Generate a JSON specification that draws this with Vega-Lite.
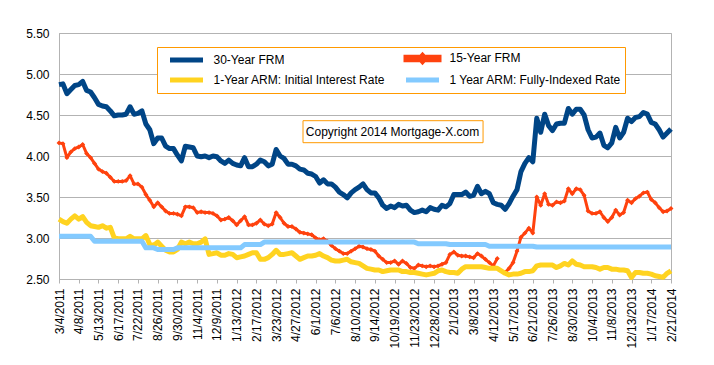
{
"$schema": "https://vega.github.io/schema/vega-lite/v6.json",
"width": 612, "height": 246,
"autosize": {"type": "none"},
"padding": {"left": 59, "top": 33, "right": 43, "bottom": 86},
"background": "white",
"config": {
  "font": "Liberation Sans",
  "view": {"stroke": "#b3b3b3", "strokeWidth": 1},
  "axis": {"labelFont": "Liberation Sans", "labelFontSize": 12, "labelColor": "#000000", "domainColor": "#b3b3b3", "tickColor": "#b3b3b3", "gridColor": "#b3b3b3", "title": null}
},
"datasets": {
"f30": [{"d":"2011-03-04","v":4.87},{"d":"2011-03-11","v":4.88},{"d":"2011-03-18","v":4.76},{"d":"2011-03-25","v":4.81},{"d":"2011-04-01","v":4.86},{"d":"2011-04-08","v":4.87},{"d":"2011-04-15","v":4.91},{"d":"2011-04-22","v":4.80},{"d":"2011-04-29","v":4.78},{"d":"2011-05-06","v":4.71},{"d":"2011-05-13","v":4.63},{"d":"2011-05-20","v":4.61},{"d":"2011-05-27","v":4.60},{"d":"2011-06-03","v":4.55},{"d":"2011-06-10","v":4.49},{"d":"2011-06-17","v":4.50},{"d":"2011-06-24","v":4.50},{"d":"2011-07-01","v":4.51},{"d":"2011-07-08","v":4.60},{"d":"2011-07-15","v":4.51},{"d":"2011-07-22","v":4.52},{"d":"2011-07-29","v":4.55},{"d":"2011-08-05","v":4.39},{"d":"2011-08-12","v":4.32},{"d":"2011-08-19","v":4.15},{"d":"2011-08-26","v":4.22},{"d":"2011-09-02","v":4.22},{"d":"2011-09-09","v":4.12},{"d":"2011-09-16","v":4.09},{"d":"2011-09-23","v":4.09},{"d":"2011-09-30","v":4.01},{"d":"2011-10-07","v":3.94},{"d":"2011-10-14","v":4.12},{"d":"2011-10-21","v":4.11},{"d":"2011-10-28","v":4.10},{"d":"2011-11-04","v":4.00},{"d":"2011-11-11","v":3.99},{"d":"2011-11-18","v":4.00},{"d":"2011-11-25","v":3.98},{"d":"2011-12-02","v":4.00},{"d":"2011-12-09","v":3.99},{"d":"2011-12-16","v":3.94},{"d":"2011-12-23","v":3.91},{"d":"2011-12-30","v":3.95},{"d":"2012-01-06","v":3.91},{"d":"2012-01-13","v":3.89},{"d":"2012-01-20","v":3.88},{"d":"2012-01-27","v":3.98},{"d":"2012-02-03","v":3.87},{"d":"2012-02-10","v":3.87},{"d":"2012-02-17","v":3.90},{"d":"2012-02-24","v":3.95},{"d":"2012-03-02","v":3.93},{"d":"2012-03-09","v":3.88},{"d":"2012-03-16","v":3.90},{"d":"2012-03-23","v":4.08},{"d":"2012-03-30","v":4.00},{"d":"2012-04-06","v":3.97},{"d":"2012-04-13","v":3.90},{"d":"2012-04-20","v":3.90},{"d":"2012-04-27","v":3.88},{"d":"2012-05-04","v":3.84},{"d":"2012-05-11","v":3.83},{"d":"2012-05-18","v":3.79},{"d":"2012-05-25","v":3.78},{"d":"2012-06-01","v":3.75},{"d":"2012-06-08","v":3.67},{"d":"2012-06-15","v":3.71},{"d":"2012-06-22","v":3.66},{"d":"2012-06-29","v":3.66},{"d":"2012-07-06","v":3.62},{"d":"2012-07-13","v":3.56},{"d":"2012-07-20","v":3.53},{"d":"2012-07-27","v":3.49},{"d":"2012-08-03","v":3.55},{"d":"2012-08-10","v":3.59},{"d":"2012-08-17","v":3.62},{"d":"2012-08-24","v":3.66},{"d":"2012-08-31","v":3.59},{"d":"2012-09-07","v":3.55},{"d":"2012-09-14","v":3.55},{"d":"2012-09-21","v":3.49},{"d":"2012-09-28","v":3.40},{"d":"2012-10-05","v":3.36},{"d":"2012-10-12","v":3.39},{"d":"2012-10-19","v":3.37},{"d":"2012-10-26","v":3.41},{"d":"2012-11-02","v":3.39},{"d":"2012-11-09","v":3.40},{"d":"2012-11-16","v":3.34},{"d":"2012-11-23","v":3.31},{"d":"2012-11-30","v":3.32},{"d":"2012-12-07","v":3.34},{"d":"2012-12-14","v":3.32},{"d":"2012-12-21","v":3.37},{"d":"2012-12-28","v":3.35},{"d":"2013-01-04","v":3.34},{"d":"2013-01-11","v":3.40},{"d":"2013-01-18","v":3.38},{"d":"2013-01-25","v":3.42},{"d":"2013-02-01","v":3.53},{"d":"2013-02-08","v":3.53},{"d":"2013-02-15","v":3.53},{"d":"2013-02-22","v":3.56},{"d":"2013-03-01","v":3.51},{"d":"2013-03-08","v":3.52},{"d":"2013-03-15","v":3.63},{"d":"2013-03-22","v":3.54},{"d":"2013-03-29","v":3.57},{"d":"2013-04-05","v":3.54},{"d":"2013-04-12","v":3.43},{"d":"2013-04-19","v":3.41},{"d":"2013-04-26","v":3.40},{"d":"2013-05-03","v":3.35},{"d":"2013-05-10","v":3.42},{"d":"2013-05-17","v":3.51},{"d":"2013-05-24","v":3.59},{"d":"2013-05-31","v":3.81},{"d":"2013-06-07","v":3.91},{"d":"2013-06-14","v":3.98},{"d":"2013-06-21","v":3.93},{"d":"2013-06-28","v":4.46},{"d":"2013-07-05","v":4.29},{"d":"2013-07-12","v":4.51},{"d":"2013-07-19","v":4.37},{"d":"2013-07-26","v":4.31},{"d":"2013-08-02","v":4.39},{"d":"2013-08-09","v":4.40},{"d":"2013-08-16","v":4.40},{"d":"2013-08-23","v":4.58},{"d":"2013-08-30","v":4.51},{"d":"2013-09-06","v":4.57},{"d":"2013-09-13","v":4.57},{"d":"2013-09-20","v":4.50},{"d":"2013-09-27","v":4.32},{"d":"2013-10-04","v":4.22},{"d":"2013-10-11","v":4.23},{"d":"2013-10-18","v":4.28},{"d":"2013-10-25","v":4.13},{"d":"2013-11-01","v":4.10},{"d":"2013-11-08","v":4.16},{"d":"2013-11-15","v":4.35},{"d":"2013-11-22","v":4.22},{"d":"2013-11-29","v":4.29},{"d":"2013-12-06","v":4.46},{"d":"2013-12-13","v":4.42},{"d":"2013-12-20","v":4.47},{"d":"2013-12-27","v":4.48},{"d":"2014-01-03","v":4.53},{"d":"2014-01-10","v":4.51},{"d":"2014-01-17","v":4.41},{"d":"2014-01-24","v":4.39},{"d":"2014-01-31","v":4.32},{"d":"2014-02-07","v":4.23},{"d":"2014-02-14","v":4.28},{"d":"2014-02-21","v":4.33}],
"f15": [{"d":"2011-03-04","v":4.16},{"d":"2011-03-11","v":4.15},{"d":"2011-03-18","v":3.98},{"d":"2011-03-25","v":4.05},{"d":"2011-04-01","v":4.09},{"d":"2011-04-08","v":4.11},{"d":"2011-04-15","v":4.14},{"d":"2011-04-22","v":4.03},{"d":"2011-04-29","v":3.98},{"d":"2011-05-06","v":3.91},{"d":"2011-05-13","v":3.84},{"d":"2011-05-20","v":3.81},{"d":"2011-05-27","v":3.79},{"d":"2011-06-03","v":3.74},{"d":"2011-06-10","v":3.69},{"d":"2011-06-17","v":3.69},{"d":"2011-06-24","v":3.69},{"d":"2011-07-01","v":3.70},{"d":"2011-07-08","v":3.76},{"d":"2011-07-15","v":3.66},{"d":"2011-07-22","v":3.66},{"d":"2011-07-29","v":3.62},{"d":"2011-08-05","v":3.53},{"d":"2011-08-12","v":3.46},{"d":"2011-08-19","v":3.38},{"d":"2011-08-26","v":3.43},{"d":"2011-09-02","v":3.38},{"d":"2011-09-09","v":3.33},{"d":"2011-09-16","v":3.30},{"d":"2011-09-23","v":3.30},{"d":"2011-09-30","v":3.29},{"d":"2011-10-07","v":3.27},{"d":"2011-10-14","v":3.38},{"d":"2011-10-21","v":3.38},{"d":"2011-10-28","v":3.37},{"d":"2011-11-04","v":3.31},{"d":"2011-11-11","v":3.32},{"d":"2011-11-18","v":3.31},{"d":"2011-11-25","v":3.31},{"d":"2011-12-02","v":3.30},{"d":"2011-12-09","v":3.27},{"d":"2011-12-16","v":3.22},{"d":"2011-12-23","v":3.23},{"d":"2011-12-30","v":3.25},{"d":"2012-01-06","v":3.21},{"d":"2012-01-13","v":3.16},{"d":"2012-01-20","v":3.21},{"d":"2012-01-27","v":3.26},{"d":"2012-02-03","v":3.16},{"d":"2012-02-10","v":3.16},{"d":"2012-02-17","v":3.18},{"d":"2012-02-24","v":3.22},{"d":"2012-03-02","v":3.17},{"d":"2012-03-09","v":3.15},{"d":"2012-03-16","v":3.17},{"d":"2012-03-23","v":3.31},{"d":"2012-03-30","v":3.25},{"d":"2012-04-06","v":3.18},{"d":"2012-04-13","v":3.14},{"d":"2012-04-20","v":3.14},{"d":"2012-04-27","v":3.11},{"d":"2012-05-04","v":3.07},{"d":"2012-05-11","v":3.06},{"d":"2012-05-18","v":3.05},{"d":"2012-05-25","v":3.04},{"d":"2012-06-01","v":3.00},{"d":"2012-06-08","v":2.98},{"d":"2012-06-15","v":2.99},{"d":"2012-06-22","v":2.96},{"d":"2012-06-29","v":2.91},{"d":"2012-07-06","v":2.87},{"d":"2012-07-13","v":2.84},{"d":"2012-07-20","v":2.81},{"d":"2012-07-27","v":2.81},{"d":"2012-08-03","v":2.84},{"d":"2012-08-10","v":2.87},{"d":"2012-08-17","v":2.90},{"d":"2012-08-24","v":2.89},{"d":"2012-08-31","v":2.87},{"d":"2012-09-07","v":2.86},{"d":"2012-09-14","v":2.84},{"d":"2012-09-21","v":2.78},{"d":"2012-09-28","v":2.74},{"d":"2012-10-05","v":2.70},{"d":"2012-10-12","v":2.70},{"d":"2012-10-19","v":2.72},{"d":"2012-10-26","v":2.68},{"d":"2012-11-02","v":2.72},{"d":"2012-11-09","v":2.69},{"d":"2012-11-16","v":2.64},{"d":"2012-11-23","v":2.63},{"d":"2012-11-30","v":2.67},{"d":"2012-12-07","v":2.66},{"d":"2012-12-14","v":2.65},{"d":"2012-12-21","v":2.66},{"d":"2012-12-28","v":2.65},{"d":"2013-01-04","v":2.66},{"d":"2013-01-11","v":2.68},{"d":"2013-01-18","v":2.70},{"d":"2013-01-25","v":2.80},{"d":"2013-02-01","v":2.83},{"d":"2013-02-08","v":2.79},{"d":"2013-02-15","v":2.78},{"d":"2013-02-22","v":2.78},{"d":"2013-03-01","v":2.77},{"d":"2013-03-08","v":2.76},{"d":"2013-03-15","v":2.81},{"d":"2013-03-22","v":2.78},{"d":"2013-03-29","v":2.74},{"d":"2013-04-05","v":2.70},{"d":"2013-04-12","v":2.66},{"d":"2013-04-19","v":2.75},{"d":"2013-04-26","v":null},{"d":"2013-05-03","v":2.58},{"d":"2013-05-10","v":2.63},{"d":"2013-05-17","v":2.70},{"d":"2013-05-24","v":2.84},{"d":"2013-05-31","v":3.01},{"d":"2013-06-07","v":3.06},{"d":"2013-06-14","v":3.12},{"d":"2013-06-21","v":3.06},{"d":"2013-06-28","v":3.50},{"d":"2013-07-05","v":3.40},{"d":"2013-07-12","v":3.54},{"d":"2013-07-19","v":3.41},{"d":"2013-07-26","v":3.40},{"d":"2013-08-02","v":3.44},{"d":"2013-08-09","v":3.43},{"d":"2013-08-16","v":3.45},{"d":"2013-08-23","v":3.60},{"d":"2013-08-30","v":3.54},{"d":"2013-09-06","v":3.60},{"d":"2013-09-13","v":3.59},{"d":"2013-09-20","v":3.52},{"d":"2013-09-27","v":3.33},{"d":"2013-10-04","v":3.30},{"d":"2013-10-11","v":3.30},{"d":"2013-10-18","v":3.32},{"d":"2013-10-25","v":3.25},{"d":"2013-11-01","v":3.20},{"d":"2013-11-08","v":3.25},{"d":"2013-11-15","v":3.34},{"d":"2013-11-22","v":3.28},{"d":"2013-11-29","v":3.31},{"d":"2013-12-06","v":3.46},{"d":"2013-12-13","v":3.43},{"d":"2013-12-20","v":3.48},{"d":"2013-12-27","v":3.51},{"d":"2014-01-03","v":3.55},{"d":"2014-01-10","v":3.56},{"d":"2014-01-17","v":3.47},{"d":"2014-01-24","v":3.43},{"d":"2014-01-31","v":3.37},{"d":"2014-02-07","v":3.32},{"d":"2014-02-14","v":3.33},{"d":"2014-02-21","v":3.36}],
"a1": [{"d":"2011-03-04","v":3.23},{"d":"2011-03-11","v":3.20},{"d":"2011-03-18","v":3.18},{"d":"2011-03-25","v":3.23},{"d":"2011-04-01","v":3.27},{"d":"2011-04-08","v":3.23},{"d":"2011-04-15","v":3.26},{"d":"2011-04-22","v":3.19},{"d":"2011-04-29","v":3.15},{"d":"2011-05-06","v":3.14},{"d":"2011-05-13","v":3.13},{"d":"2011-05-20","v":3.15},{"d":"2011-05-27","v":3.12},{"d":"2011-06-03","v":3.13},{"d":"2011-06-10","v":3.00},{"d":"2011-06-17","v":2.99},{"d":"2011-06-24","v":2.99},{"d":"2011-07-01","v":2.99},{"d":"2011-07-08","v":3.02},{"d":"2011-07-15","v":2.99},{"d":"2011-07-22","v":2.99},{"d":"2011-07-29","v":2.99},{"d":"2011-08-05","v":3.03},{"d":"2011-08-12","v":2.92},{"d":"2011-08-19","v":2.91},{"d":"2011-08-26","v":2.95},{"d":"2011-09-02","v":2.90},{"d":"2011-09-09","v":2.85},{"d":"2011-09-16","v":2.83},{"d":"2011-09-23","v":2.83},{"d":"2011-09-30","v":2.86},{"d":"2011-10-07","v":2.95},{"d":"2011-10-14","v":2.93},{"d":"2011-10-21","v":2.95},{"d":"2011-10-28","v":2.93},{"d":"2011-11-04","v":2.93},{"d":"2011-11-11","v":2.95},{"d":"2011-11-18","v":2.99},{"d":"2011-11-25","v":2.80},{"d":"2011-12-02","v":2.81},{"d":"2011-12-09","v":2.82},{"d":"2011-12-16","v":2.79},{"d":"2011-12-23","v":2.79},{"d":"2011-12-30","v":2.81},{"d":"2012-01-06","v":2.80},{"d":"2012-01-13","v":2.76},{"d":"2012-01-20","v":2.77},{"d":"2012-01-27","v":2.78},{"d":"2012-02-03","v":2.80},{"d":"2012-02-10","v":2.82},{"d":"2012-02-17","v":2.82},{"d":"2012-02-24","v":2.74},{"d":"2012-03-02","v":2.74},{"d":"2012-03-09","v":2.76},{"d":"2012-03-16","v":2.80},{"d":"2012-03-23","v":2.85},{"d":"2012-03-30","v":2.80},{"d":"2012-04-06","v":2.80},{"d":"2012-04-13","v":2.81},{"d":"2012-04-20","v":2.82},{"d":"2012-04-27","v":2.78},{"d":"2012-05-04","v":2.74},{"d":"2012-05-11","v":2.76},{"d":"2012-05-18","v":2.78},{"d":"2012-05-25","v":2.78},{"d":"2012-06-01","v":2.79},{"d":"2012-06-08","v":2.81},{"d":"2012-06-15","v":2.78},{"d":"2012-06-22","v":2.76},{"d":"2012-06-29","v":2.73},{"d":"2012-07-06","v":2.72},{"d":"2012-07-13","v":2.72},{"d":"2012-07-20","v":2.73},{"d":"2012-07-27","v":2.74},{"d":"2012-08-03","v":2.71},{"d":"2012-08-10","v":2.70},{"d":"2012-08-17","v":2.69},{"d":"2012-08-24","v":2.66},{"d":"2012-08-31","v":2.63},{"d":"2012-09-07","v":2.62},{"d":"2012-09-14","v":2.61},{"d":"2012-09-21","v":2.61},{"d":"2012-09-28","v":2.59},{"d":"2012-10-05","v":2.60},{"d":"2012-10-12","v":2.61},{"d":"2012-10-19","v":2.61},{"d":"2012-10-26","v":2.61},{"d":"2012-11-02","v":2.59},{"d":"2012-11-09","v":2.59},{"d":"2012-11-16","v":2.58},{"d":"2012-11-23","v":2.58},{"d":"2012-11-30","v":2.57},{"d":"2012-12-07","v":2.56},{"d":"2012-12-14","v":2.55},{"d":"2012-12-21","v":2.56},{"d":"2012-12-28","v":2.57},{"d":"2013-01-04","v":2.60},{"d":"2013-01-11","v":2.61},{"d":"2013-01-18","v":2.59},{"d":"2013-01-25","v":2.58},{"d":"2013-02-01","v":2.58},{"d":"2013-02-08","v":2.57},{"d":"2013-02-15","v":2.62},{"d":"2013-02-22","v":2.65},{"d":"2013-03-01","v":2.65},{"d":"2013-03-08","v":2.65},{"d":"2013-03-15","v":2.65},{"d":"2013-03-22","v":2.65},{"d":"2013-03-29","v":2.64},{"d":"2013-04-05","v":2.63},{"d":"2013-04-12","v":2.63},{"d":"2013-04-19","v":2.63},{"d":"2013-04-26","v":2.60},{"d":"2013-05-03","v":2.57},{"d":"2013-05-10","v":2.55},{"d":"2013-05-17","v":2.56},{"d":"2013-05-24","v":2.56},{"d":"2013-05-31","v":2.57},{"d":"2013-06-07","v":2.59},{"d":"2013-06-14","v":2.59},{"d":"2013-06-21","v":2.60},{"d":"2013-06-28","v":2.66},{"d":"2013-07-05","v":2.67},{"d":"2013-07-12","v":2.67},{"d":"2013-07-19","v":2.67},{"d":"2013-07-26","v":2.67},{"d":"2013-08-02","v":2.64},{"d":"2013-08-09","v":2.66},{"d":"2013-08-16","v":2.69},{"d":"2013-08-23","v":2.67},{"d":"2013-08-30","v":2.72},{"d":"2013-09-06","v":2.68},{"d":"2013-09-13","v":2.67},{"d":"2013-09-20","v":2.65},{"d":"2013-09-27","v":2.65},{"d":"2013-10-04","v":2.65},{"d":"2013-10-11","v":2.64},{"d":"2013-10-18","v":2.62},{"d":"2013-10-25","v":2.64},{"d":"2013-11-01","v":2.64},{"d":"2013-11-08","v":2.62},{"d":"2013-11-15","v":2.62},{"d":"2013-11-22","v":2.61},{"d":"2013-11-29","v":2.61},{"d":"2013-12-06","v":2.60},{"d":"2013-12-13","v":2.52},{"d":"2013-12-20","v":2.58},{"d":"2013-12-27","v":2.58},{"d":"2014-01-03","v":2.57},{"d":"2014-01-10","v":2.57},{"d":"2014-01-17","v":2.56},{"d":"2014-01-24","v":2.54},{"d":"2014-01-31","v":2.53},{"d":"2014-02-07","v":2.52},{"d":"2014-02-14","v":2.57},{"d":"2014-02-21","v":2.60}],
"af": [{"d":"2011-03-04","v":3.02},{"d":"2011-03-11","v":3.02},{"d":"2011-03-18","v":3.02},{"d":"2011-03-25","v":3.02},{"d":"2011-04-01","v":3.02},{"d":"2011-04-08","v":3.02},{"d":"2011-04-15","v":3.02},{"d":"2011-04-22","v":3.02},{"d":"2011-04-29","v":3.02},{"d":"2011-05-06","v":2.96},{"d":"2011-05-13","v":2.96},{"d":"2011-05-20","v":2.96},{"d":"2011-05-27","v":2.96},{"d":"2011-06-03","v":2.96},{"d":"2011-06-10","v":2.96},{"d":"2011-06-17","v":2.96},{"d":"2011-06-24","v":2.96},{"d":"2011-07-01","v":2.96},{"d":"2011-07-08","v":2.96},{"d":"2011-07-15","v":2.96},{"d":"2011-07-22","v":2.96},{"d":"2011-07-29","v":2.96},{"d":"2011-08-05","v":2.88},{"d":"2011-08-12","v":2.88},{"d":"2011-08-19","v":2.88},{"d":"2011-08-26","v":2.86},{"d":"2011-09-02","v":2.86},{"d":"2011-09-09","v":2.86},{"d":"2011-09-16","v":2.86},{"d":"2011-09-23","v":2.86},{"d":"2011-09-30","v":2.88},{"d":"2011-10-07","v":2.88},{"d":"2011-10-14","v":2.88},{"d":"2011-10-21","v":2.88},{"d":"2011-10-28","v":2.88},{"d":"2011-11-04","v":2.88},{"d":"2011-11-11","v":2.88},{"d":"2011-11-18","v":2.88},{"d":"2011-11-25","v":2.88},{"d":"2011-12-02","v":2.88},{"d":"2011-12-09","v":2.88},{"d":"2011-12-16","v":2.88},{"d":"2011-12-23","v":2.88},{"d":"2011-12-30","v":2.88},{"d":"2012-01-06","v":2.88},{"d":"2012-01-13","v":2.88},{"d":"2012-01-20","v":2.88},{"d":"2012-01-27","v":2.92},{"d":"2012-02-03","v":2.92},{"d":"2012-02-10","v":2.92},{"d":"2012-02-17","v":2.92},{"d":"2012-02-24","v":2.92},{"d":"2012-03-02","v":2.95},{"d":"2012-03-09","v":2.95},{"d":"2012-03-16","v":2.95},{"d":"2012-03-23","v":2.95},{"d":"2012-03-30","v":2.95},{"d":"2012-04-06","v":2.95},{"d":"2012-04-13","v":2.95},{"d":"2012-04-20","v":2.95},{"d":"2012-04-27","v":2.95},{"d":"2012-05-04","v":2.95},{"d":"2012-05-11","v":2.95},{"d":"2012-05-18","v":2.95},{"d":"2012-05-25","v":2.95},{"d":"2012-06-01","v":2.95},{"d":"2012-06-08","v":2.95},{"d":"2012-06-15","v":2.95},{"d":"2012-06-22","v":2.95},{"d":"2012-06-29","v":2.95},{"d":"2012-07-06","v":2.95},{"d":"2012-07-13","v":2.95},{"d":"2012-07-20","v":2.95},{"d":"2012-07-27","v":2.95},{"d":"2012-08-03","v":2.95},{"d":"2012-08-10","v":2.95},{"d":"2012-08-17","v":2.95},{"d":"2012-08-24","v":2.95},{"d":"2012-08-31","v":2.95},{"d":"2012-09-07","v":2.95},{"d":"2012-09-14","v":2.95},{"d":"2012-09-21","v":2.95},{"d":"2012-09-28","v":2.95},{"d":"2012-10-05","v":2.95},{"d":"2012-10-12","v":2.95},{"d":"2012-10-19","v":2.95},{"d":"2012-10-26","v":2.95},{"d":"2012-11-02","v":2.95},{"d":"2012-11-09","v":2.95},{"d":"2012-11-16","v":2.95},{"d":"2012-11-23","v":2.95},{"d":"2012-11-30","v":2.93},{"d":"2012-12-07","v":2.93},{"d":"2012-12-14","v":2.93},{"d":"2012-12-21","v":2.93},{"d":"2012-12-28","v":2.93},{"d":"2013-01-04","v":2.93},{"d":"2013-01-11","v":2.93},{"d":"2013-01-18","v":2.93},{"d":"2013-01-25","v":2.92},{"d":"2013-02-01","v":2.92},{"d":"2013-02-08","v":2.92},{"d":"2013-02-15","v":2.92},{"d":"2013-02-22","v":2.92},{"d":"2013-03-01","v":2.92},{"d":"2013-03-08","v":2.92},{"d":"2013-03-15","v":2.92},{"d":"2013-03-22","v":2.92},{"d":"2013-03-29","v":2.92},{"d":"2013-04-05","v":2.90},{"d":"2013-04-12","v":2.90},{"d":"2013-04-19","v":2.90},{"d":"2013-04-26","v":2.90},{"d":"2013-05-03","v":2.90},{"d":"2013-05-10","v":2.90},{"d":"2013-05-17","v":2.90},{"d":"2013-05-24","v":2.90},{"d":"2013-05-31","v":2.90},{"d":"2013-06-07","v":2.90},{"d":"2013-06-14","v":2.90},{"d":"2013-06-21","v":2.90},{"d":"2013-06-28","v":2.89},{"d":"2013-07-05","v":2.89},{"d":"2013-07-12","v":2.89},{"d":"2013-07-19","v":2.89},{"d":"2013-07-26","v":2.89},{"d":"2013-08-02","v":2.89},{"d":"2013-08-09","v":2.89},{"d":"2013-08-16","v":2.89},{"d":"2013-08-23","v":2.89},{"d":"2013-08-30","v":2.89},{"d":"2013-09-06","v":2.89},{"d":"2013-09-13","v":2.89},{"d":"2013-09-20","v":2.89},{"d":"2013-09-27","v":2.89},{"d":"2013-10-04","v":2.89},{"d":"2013-10-11","v":2.89},{"d":"2013-10-18","v":2.89},{"d":"2013-10-25","v":2.89},{"d":"2013-11-01","v":2.89},{"d":"2013-11-08","v":2.89},{"d":"2013-11-15","v":2.89},{"d":"2013-11-22","v":2.89},{"d":"2013-11-29","v":2.89},{"d":"2013-12-06","v":2.89},{"d":"2013-12-13","v":2.89},{"d":"2013-12-20","v":2.89},{"d":"2013-12-27","v":2.89},{"d":"2014-01-03","v":2.89},{"d":"2014-01-10","v":2.89},{"d":"2014-01-17","v":2.89},{"d":"2014-01-24","v":2.89},{"d":"2014-01-31","v":2.89},{"d":"2014-02-07","v":2.89},{"d":"2014-02-14","v":2.89},{"d":"2014-02-21","v":2.89}]
},
"layer": [
  {
    "data": {"name": "f30"},
    "mark": {"type": "line", "strokeWidth": 5, "strokeJoin": "round"},
    "encoding": {
      "x": {"field": "d", "type": "temporal",
        "scale": {"type": "utc", "domain": [1299196800000, 1392940800000]},
        "axis": {"values": [1299196800000,1302220800000,1305244800000,1308268800000,1311292800000,1314316800000,1317340800000,1320364800000,1323388800000,1326412800000,1329436800000,1332460800000,1335484800000,1338508800000,1341532800000,1344556800000,1347580800000,1350604800000,1353628800000,1356652800000,1359676800000,1362700800000,1365724800000,1368748800000,1371772800000,1374796800000,1377820800000,1380844800000,1383868800000,1386892800000,1389916800000,1392940800000],
          "tickCount": 40,
          "format": "%-m/%-d/%Y", "labelAngle": 270, "labelPadding": 5, "tickSize": 4, "grid": false,
          "labelOverlap": false, "labelFlush": false, "labelBound": false, "title": null}},
      "y": {"field": "v", "type": "quantitative",
        "scale": {"domain": [2.5, 5.5], "nice": false, "zero": false},
        "axis": {"values": [2.5, 3, 3.5, 4, 4.5, 5, 5.5], "format": ".2f", "grid": true, "ticks": false, "tickSize": 0, "labelPadding": 10, "title": null}},
      "color": {"datum": "30-Year FRM", "type": "nominal",
        "scale": {"domain": ["30-Year FRM", "1-Year ARM: Initial Interest Rate", "15-Year FRM", "1 Year ARM: Fully-Indexed Rate"],
                  "range": ["#004586", "#ffd320", "#ff420e", "#83caff"]},
        "legend": {"orient": "none", "legendX": 98, "legendY": 14, "columns": 2, "title": null,
          "strokeColor": "#ff9900", "fillColor": "white", "padding": 3, "rowPadding": -5, "columnPadding": 10,
          "symbolType": "M-3,0H3", "symbolSize": 121, "symbolStrokeWidth": 5, "symbolOffset": 18.5, "labelOffset": 19,
          "labelFont": "Liberation Sans", "labelFontSize": 12, "labelColor": "#000000", "labelLimit": 400,
          "labelExpr": "datum.label == '1 Year ARM: Fully-Indexed Rate' ? datum.label + '       ' : datum.label",
          "encode": {"symbols": {"update": {
            "shape": {"signal": "datum.value == '15-Year FRM' ? 'M-3,-0.22H3V0.22H-3ZM0,-0.55L0.5,0L0,0.55L-0.5,0Z' : 'M-3,0H3'"},
            "fill": {"signal": "datum.value == '15-Year FRM' ? '#ff420e' : 'transparent'"},
            "stroke": {"signal": "datum.value == '15-Year FRM' ? 'transparent' : scale('color', datum.value)"}
          }}}}}
    }
  },
  {
    "data": {"name": "f15"},
    "mark": {"type": "line", "strokeWidth": 3, "strokeJoin": "round", "invalid": "break-paths-show-domains"},
    "encoding": {
      "x": {"field": "d", "type": "temporal"},
      "y": {"field": "v", "type": "quantitative"},
      "color": {"datum": "15-Year FRM", "type": "nominal"}
    }
  },
  {
    "data": {"name": "f15"},
    "mark": {"type": "point", "shape": "diamond", "filled": true, "size": 24, "opacity": 1, "invalid": "filter"},
    "encoding": {
      "x": {"field": "d", "type": "temporal"},
      "y": {"field": "v", "type": "quantitative"},
      "color": {"datum": "15-Year FRM", "type": "nominal"}
    }
  },
  {
    "data": {"name": "a1"},
    "mark": {"type": "line", "strokeWidth": 5, "strokeJoin": "round"},
    "encoding": {
      "x": {"field": "d", "type": "temporal"},
      "y": {"field": "v", "type": "quantitative"},
      "color": {"datum": "1-Year ARM: Initial Interest Rate", "type": "nominal"}
    }
  },
  {
    "data": {"name": "af"},
    "mark": {"type": "line", "strokeWidth": 5, "strokeJoin": "round"},
    "encoding": {
      "x": {"field": "d", "type": "temporal"},
      "y": {"field": "v", "type": "quantitative"},
      "color": {"datum": "1 Year ARM: Fully-Indexed Rate", "type": "nominal"}
    }
  },
  {
    "data": {"values": [{}]},
    "mark": {"type": "rect", "fill": "white", "stroke": "#ff9900", "strokeWidth": 1},
    "encoding": {
      "x": {"datum": 1336573440000, "type": "temporal"},
      "x2": {"datum": 1364152320000},
      "y": {"datum": 4.4305, "type": "quantitative"},
      "y2": {"datum": 4.1622}
    }
  },
  {
    "data": {"values": [{}]},
    "mark": {"type": "text", "font": "Liberation Sans", "fontSize": 12, "color": "#000000", "align": "center", "baseline": "middle"},
    "encoding": {
      "x": {"datum": 1350284256000, "type": "temporal"},
      "y": {"datum": 4.296, "type": "quantitative"},
      "text": {"value": "Copyright 2014 Mortgage-X.com"}
    }
  }
]
}
